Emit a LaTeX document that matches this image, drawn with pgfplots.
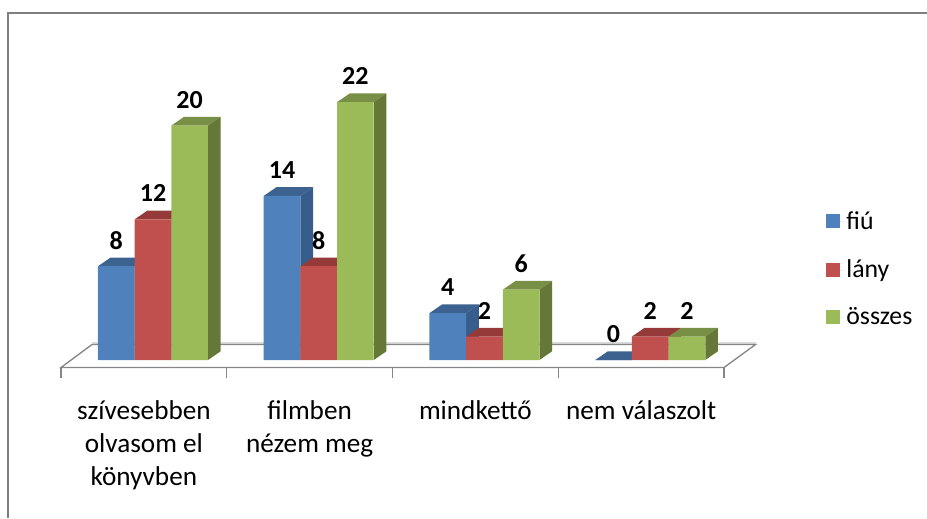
\documentclass[border=0pt]{standalone}
\usepackage{fontspec}
\setmainfont{Carlito}
\usepackage{pgfplots}
\usepackage{pgfplotstable}
\pgfplotsset{compat=1.18}
\usepackage{xcolor}

\definecolor{blueF}{HTML}{4F81BD}
\definecolor{blueT}{HTML}{3C6390}
\definecolor{blueS}{HTML}{375D8C}
\definecolor{redF}{HTML}{C0504D}
\definecolor{redT}{HTML}{953A38}
\definecolor{redS}{HTML}{8E3835}
\definecolor{greenF}{HTML}{9BBB59}
\definecolor{greenT}{HTML}{789045}
\definecolor{greenS}{HTML}{657838}
\definecolor{gridgray}{HTML}{868686}

\pgfplotstableread{
x fiu lany osszes
0 8 12 20
1 14 8 22
2 4 2 6
3 0 2 2
}\answers

% top and side face of one bar: category, bar offset in px from category centre, value, colour prefix
\newcommand{\barfaces}[4]{%
  \pgfmathsetmacro\xa{#1+(#2-18.33)/165.75}%
  \pgfmathsetmacro\xb{#1+(#2+18.33)/165.75}%
  \pgfmathsetmacro\xc{\xb+0.076}%
  \pgfmathsetmacro\xd{\xa+0.076}%
  \pgfmathsetmacro\yt{#3+0.742}%
  \addplot[fill=#4T, draw=none, forget plot] coordinates {(\xa,#3) (\xb,#3) (\xc,\yt) (\xd,\yt)} -- cycle;
  \addplot[fill=#4S, draw=none, forget plot] coordinates {(\xb,0) (\xc,0.742) (\xc,\yt) (\xb,#3)} -- cycle;
}

\begin{document}
\begin{tikzpicture}
\path[use as bounding box] (-45.75pt,-112.875pt) rectangle (649.5pt,275.625pt);
\begin{axis}[
    at={(0pt,0pt)},
    anchor=south west,
    scale only axis,
    width=497.25pt,
    height=251.75pt,
    xmin=-0.5, xmax=3.5,
    ymin=-0.64, ymax=28,
    clip=false,
    axis x line*=bottom,
    axis y line=none,
    x axis line style={draw=none},
    xtick={0,1,2,3},
    xticklabels={{szívesebben\\olvasom el\\könyvben},{filmben\\nézem meg},{mindkettő},{nem válaszolt}},
    minor xtick={-0.5,0.5,1.5,2.5,3.5},
    major tick length=0pt,
    minor tick length=7.5pt,
    tick align=outside,
    minor tick style={gridgray, line width=1pt},
    xticklabel style={align=center, font=\fontsize{20.4}{24.8}\selectfont, yshift=-21pt},
    /pgf/number format/assume math mode=true,
    bar width=27.5pt,
    every node near coord/.append style={anchor=center, yshift=19.5pt, text=black, font=\fontsize{19.5}{24}\selectfont\bfseries},
    legend style={at={(1.148,0.293)}, anchor=west, draw=none, fill=none,
        font=\fontsize{19.3}{24}\selectfont, row sep=17.25pt},
    legend cell align=left,
    legend image code/.code={\path (0pt,0pt) rectangle (13pt,0pt); \fill[#1] (0pt,-5.25pt) rectangle (10.5pt,5.25pt);},
]
% floor
\addplot[gridgray!30, line width=1pt, forget plot] coordinates {(-0.31,1.45) (3.69,1.45)};
\addplot[gridgray, line width=1pt, forget plot] coordinates {(-0.5,-0.64) (-0.313,1.32) (3.69,1.32) (3.5,-0.64)} -- cycle;

\barfaces{0}{-27.54}{8}{blue}
\barfaces{1}{-27.54}{14}{blue}
\barfaces{2}{-27.54}{4}{blue}
\barfaces{3}{-27.54}{0}{blue}
\addplot[ybar, bar shift=-20.66pt, fill=blueF, draw=none, nodes near coords,
    every node near coord/.append style={xshift=-20.66pt}] table[x=x, y=fiu] {\answers};
\addlegendentry{fiú}

\barfaces{0}{9.13}{12}{red}
\barfaces{1}{9.13}{8}{red}
\barfaces{2}{9.13}{2}{red}
\barfaces{3}{9.13}{2}{red}
\addplot[ybar, bar shift=6.84pt, fill=redF, draw=none, nodes near coords,
    every node near coord/.append style={xshift=6.84pt}] table[x=x, y=lany] {\answers};
\addlegendentry{lány}

\barfaces{0}{45.8}{20}{green}
\barfaces{1}{45.8}{22}{green}
\barfaces{2}{45.8}{6}{green}
\barfaces{3}{45.8}{2}{green}
\addplot[ybar, bar shift=34.34pt, fill=greenF, draw=none, nodes near coords,
    every node near coord/.append style={xshift=34.34pt}] table[x=x, y=osszes] {\answers};
\addlegendentry{összes}
\end{axis}
% frame of the chart area, open to the right and below
\draw[gridgray!95!black, line width=1.6pt] (-39.75pt,-112.875pt) -- (-39.75pt,265.9pt) -- (649.5pt,265.9pt);
\end{tikzpicture}
\end{document}
